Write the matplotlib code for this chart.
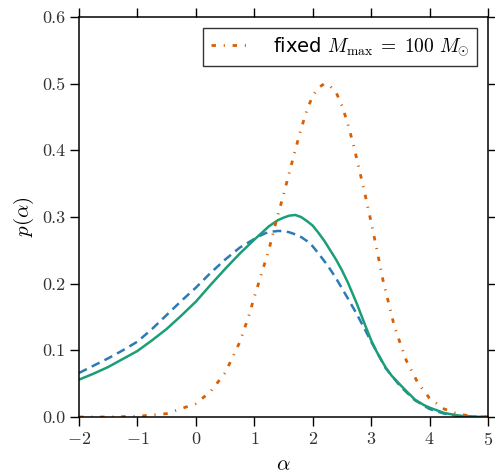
import matplotlib
matplotlib.use("Agg")
import matplotlib.pyplot as plt

plt.rcParams['font.family'] = 'serif'
plt.rcParams['font.serif'] = ['cmr10', 'DejaVu Serif']
plt.rcParams['mathtext.fontset'] = 'cm'
plt.rcParams['axes.formatter.use_mathtext'] = True

# solid curve
x_solid = [-2, -1.75, -1.5, -1.25, -1, -0.75, -0.5, -0.25, 0, 0.25, 0.5, 0.75, 1.0, 1.1,
           1.25, 1.3, 1.4, 1.5, 1.6, 1.7, 1.8, 1.9, 2.0, 2.1, 2.2, 2.3, 2.4, 2.5, 2.6,
           2.75, 2.9, 3.0, 3.1, 3.25, 3.35, 3.5, 3.6, 3.75, 3.9, 4.0, 4.25, 4.5, 4.75, 5]
p_solid = [0.056, 0.065, 0.075, 0.087, 0.099, 0.115, 0.132, 0.152, 0.173, 0.198, 0.222,
           0.245, 0.266, 0.274, 0.286, 0.289, 0.295, 0.299, 0.302, 0.303, 0.300, 0.294,
           0.287, 0.276, 0.264, 0.250, 0.236, 0.220, 0.202, 0.171, 0.137, 0.115, 0.097,
           0.074, 0.062, 0.048, 0.039, 0.026, 0.018, 0.014, 0.006, 0.002, 0.0005, 0.0]

# dashed curve
x_dash = [-2, -1.75, -1.5, -1.25, -1, -0.75, -0.5, -0.25, 0, 0.25, 0.5, 0.75, 1.0, 1.1,
          1.2, 1.3, 1.4, 1.5, 1.6, 1.7, 1.8, 1.9, 2.0, 2.1, 2.25, 2.4, 2.5, 2.6, 2.75,
          2.9, 3.0, 3.1, 3.25, 3.5, 3.75, 4.0, 4.25, 4.5, 4.75, 5]
p_dash = [0.066, 0.077, 0.088, 0.100, 0.113, 0.132, 0.153, 0.174, 0.194, 0.216, 0.236,
          0.254, 0.267, 0.272, 0.276, 0.278, 0.279, 0.279, 0.277, 0.274, 0.270, 0.264,
          0.256, 0.245, 0.228, 0.208, 0.193, 0.178, 0.155, 0.130, 0.113, 0.097, 0.073,
          0.046, 0.025, 0.012, 0.005, 0.0015, 0.0004, 0.0]

# fixed M_max = 100 curve
x_fixed = [-2, -1.5, -1, -0.5, 0, 0.25, 0.5, 0.75, 0.9, 1.0, 1.1, 1.25, 1.4, 1.5, 1.6,
           1.7, 1.8, 1.9, 2.0, 2.1, 2.2, 2.3, 2.4, 2.5, 2.6, 2.7, 2.8, 2.9, 3.0, 3.1,
           3.2, 3.4, 3.6, 3.8, 4.0, 4.25, 4.5, 4.75, 5]
p_fixed = [0.0, 0.0, 0.001, 0.005, 0.020, 0.038, 0.066, 0.112, 0.150, 0.180, 0.208,
           0.251, 0.302, 0.333, 0.367, 0.400, 0.432, 0.460, 0.482, 0.494, 0.500, 0.496,
           0.487, 0.467, 0.440, 0.407, 0.370, 0.332, 0.292, 0.250, 0.206, 0.135, 0.085,
           0.051, 0.028, 0.012, 0.004, 0.001, 0.0]

fig = plt.figure(figsize=(4.95, 4.76), dpi=100)
ax = fig.add_axes([0.1596, 0.124, 0.8263, 0.8403])

ax.plot(x_dash, p_dash, color='#2c7bb6', lw=1.8, linestyle=(0, (3.5, 2.2)))
ax.plot(x_solid, p_solid, color='#1b9e77', lw=1.8)
ax.plot(x_fixed, p_fixed, color='#d95f02', lw=2.0, linestyle=(0, (1.6, 2.8, 0.4, 2.8)),
        label=r'fixed $M_{\max}\;=\;100\ M_{\odot}$')

ax.set_xlim(-2, 5)
ax.set_ylim(0, 0.6)
ax.set_xticks([-2, -1, 0, 1, 2, 3, 4, 5])
ax.set_yticks([0.0, 0.1, 0.2, 0.3, 0.4, 0.5, 0.6])
ax.set_yticklabels(['0.0', '0.1', '0.2', '0.3', '0.4', '0.5', '0.6'])
ax.tick_params(direction='out', length=6.5, width=1, top=True, right=True,
               labelsize=13, labelcolor='#333333')
for s in ax.spines.values():
    s.set_linewidth(1.1)
ax.set_xlabel(r'$\alpha$', fontsize=15, labelpad=6)
ax.set_ylabel(r'$p(\alpha)$', fontsize=15, labelpad=4)

leg = ax.legend(loc='upper right', fancybox=False, framealpha=1, edgecolor='#333333',
                prop={'family': 'DejaVu Sans', 'size': 14}, handlelength=1.9,
                handletextpad=1.3, borderpad=0.4, borderaxespad=0.55,
                bbox_to_anchor=(1.0, 1.0))
leg.get_frame().set_linewidth(1.0)

fig.savefig('out.png', dpi=100)
